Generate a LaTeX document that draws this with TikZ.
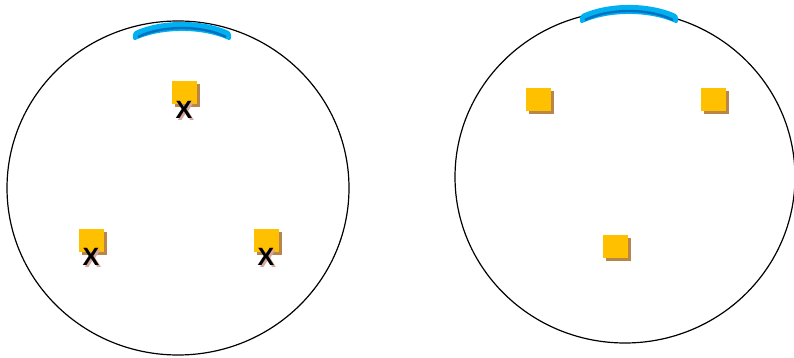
\documentclass[tikz,border=0pt]{standalone}
\usepackage{fontspec}
\setsansfont{Liberation Sans}
\definecolor{lenscyan}{HTML}{00B0F0}
\definecolor{lensdark}{HTML}{0070C0}
\definecolor{sqyellow}{HTML}{FFC000}
\definecolor{sqshadow}{HTML}{B8864B}
\definecolor{xshadow}{HTML}{D8A8A0}
\tikzset{
  sq/.style={fill=sqyellow, minimum width=25pt, minimum height=23pt, inner sep=0pt, draw=none},
  sqsh/.style={fill=sqshadow, minimum width=25pt, minimum height=23pt, inner sep=0pt, draw=none},
  xmark/.style={font=\sffamily\bfseries\fontsize{25}{25}\selectfont, inner sep=0pt},
  ring/.style={draw=black, line width=1.2pt},
}
\begin{document}
\begin{tikzpicture}[x=1pt,y=-1pt]
\useasboundingbox (0,0) rectangle (794,358);
% circles
\draw[ring] (178,188) ellipse [x radius=171, y radius=167];
\draw[ring] (625,177) ellipse [x radius=170, y radius=166];
% lenses
\foreach \cx/\cy in {182/40, 629/23}{
  \fill[lenscyan, rounded corners=3pt] (\cx-49,\cy-8) .. controls (\cx-20,\cy-21) and (\cx+20,\cy-21) .. (\cx+49,\cy-8)
     -- (\cx+49,\cy+1) .. controls (\cx+20,\cy-12) and (\cx-20,\cy-12) .. (\cx-49,\cy+1) -- cycle;
  \draw[lensdark, line width=2.4pt] (\cx-44,\cy-3) .. controls (\cx-20,\cy-15) and (\cx+20,\cy-15) .. (\cx+44,\cy-3);
}
% left squares with X
\foreach \n/\x/\y in {a/184/93, b/91/240, c/266/240}{
  \node[sqsh] at (\x+3,\y+3) {};
  \node[sq] (\n) at (\x,\y) {};
  \node[xmark, text=xshadow] at (\x+2,\y+19) {X};
  \node[xmark] (\n x) at (\x,\y+17) {X};
}
% right squares
\foreach \n/\x/\y in {d/538/100, e/713/100, f/615/246}{
  \node[sqsh] at (\x+3,\y+3) {};
  \node[sq] (\n) at (\x,\y) {};
}
\end{tikzpicture}
\end{document}
